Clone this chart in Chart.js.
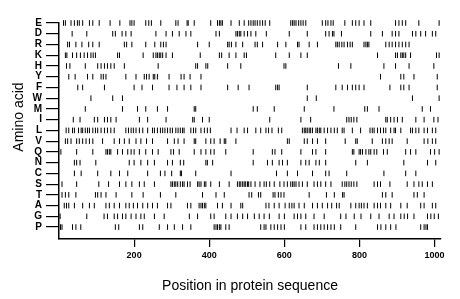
<!DOCTYPE html>
<html>
<head>
<meta charset="utf-8">
<script src="https://cdn.jsdelivr.net/npm/chart.js@4/dist/chart.umd.min.js"></script>
<style>
  html, body { margin: 0; padding: 0; background: #fff; }
  #wrap { width: 460px; height: 299px; }
</style>
</head>
<body>
<div id="wrap"><canvas id="aa_chart" width="460" height="299"></canvas></div>
<script>
// residues, top row first
const rows = ["E", "D", "R", "K", "H", "Y", "F", "W", "M", "I", "L", "V", "Q", "N", "C", "S", "T", "A", "G", "P"];
const xTicks = [200, 400, 600, 800, 1000];
const seqLength = 1017;

// positions of each residue in the sequence
const posE = [12,17,32,41,49,54,63,81,90,107,136,162,189,194,200,231,239,246,271,311,317,341,344,360,404,422,427,431,435,458,480,493,505,511,517,522,528,535,542,549,561,617,622,626,631,638,644,650,657,701,710,716,724,730,761,781,790,799,812,830,896,905,914,923,958,1012];
const posD = [35,74,143,150,168,178,192,258,285,302,320,338,351,418,427,471,475,480,484,493,502,511,524,552,613,661,710,719,728,732,752,830,861,887,896,905,941,950,963,976,994,1003];
const posR = [23,28,45,61,79,90,107,174,180,194,231,255,271,278,285,369,400,449,453,459,471,489,522,528,542,582,604,635,639,666,688,737,741,746,753,759,768,775,781,812,817,821,825,870,879,887,896,905,914,923,932];
const posK = [17,21,36,47,57,67,76,85,91,97,156,161,224,251,258,262,267,271,276,285,302,376,427,433,453,471,493,499,577,613,644,661,848,896,901,910,914,918,923,936,1005,1012];
const posH = [20,29,70,103,112,121,129,138,147,174,264,364,369,391,396,449,484,599,604,744,777,865,896,932,998];
const posY = [26,43,76,90,112,118,125,178,205,227,233,240,251,255,262,293,325,333,349,378,856,910,918,945,1007];
const posF = [50,63,121,200,221,249,293,314,333,351,378,449,477,506,577,582,586,661,737,754,768,781,790,799,812,881,910,918,932,1007];
const posW = [85,143,169,661,685,941,1012];
const posM = [70,169,209,231,262,289,360,364,517,528,573,653,732,814,821,852,967,989];
const posI = [38,56,94,103,121,129,138,152,214,236,285,356,360,382,400,561,644,670,766,772,778,785,793,870,874,883,892,901,914,950,972,998,1009];
const posL = [19,26,36,41,52,59,63,70,76,81,90,97,103,112,121,129,138,147,178,185,192,198,205,214,223,236,249,254,262,270,276,282,289,296,302,311,317,323,329,333,351,358,364,378,387,395,403,458,474,493,502,524,537,551,558,567,584,593,648,653,657,661,666,670,675,684,688,693,697,706,715,724,733,741,754,759,781,803,828,834,839,848,856,864,870,883,892,896,910,936,941,950,958,972,981,994,1003];
const posV = [17,23,32,47,54,63,72,81,90,116,147,161,174,187,205,218,233,249,289,307,317,333,360,364,391,404,413,429,440,444,471,608,613,653,661,675,688,710,762,790,794,834,861,870,879,887,927,972,982,994,1003];
const posQ = [5,47,90,125,129,134,138,156,169,183,192,200,214,231,249,264,298,305,320,360,378,391,404,413,444,517,568,575,593,644,675,684,710,781,785,799,803,808,817,825,830,839,846,864,874,923,936,950,989,1000,1012];
const posN = [41,47,56,98,187,200,218,236,254,289,302,323,332,391,395,409,517,555,568,586,595,608,644,657,666,684,693,710,790,821,918,981,1003];
const posC = [41,59,103,138,161,183,236,270,282,300,323,326,364,458,579,608,635,675,710,719,766,865,923,950];
const posS = [8,47,106,132,161,178,194,214,227,254,298,302,307,311,316,323,329,333,342,349,369,373,378,387,391,404,427,453,475,480,484,489,493,497,502,505,511,522,535,546,552,561,573,588,599,608,617,622,626,631,639,648,661,679,688,697,710,724,754,761,766,772,778,785,793,839,848,856,881,927,945,958,967,981,994];
const posT = [8,17,26,45,97,103,112,125,152,194,224,270,311,382,418,440,506,513,531,537,570,575,584,591,599,666,712,733,755,759,861,870,887,945,954,972];
const posA = [14,20,26,41,63,81,94,125,134,147,161,178,187,198,209,223,236,249,262,289,298,342,351,373,378,382,387,391,422,435,458,484,489,551,559,573,586,602,613,620,626,639,653,675,688,701,715,726,739,746,777,790,799,805,812,821,839,848,856,870,883,910,927,963,972,994,1003];
const posG = [3,74,120,129,147,156,169,178,192,205,218,227,254,280,347,369,404,413,444,458,475,489,502,520,533,546,560,586,600,626,635,644,657,679,706,750,764,786,804,830,852,879,892,910,919,928,945,981,990,999,1010];
const posP = [4,8,36,45,58,150,159,214,223,267,289,307,329,351,413,418,422,427,431,444,453,537,546,551,564,573,582,591,600,644,657,679,688,697,706,715,724,733,750,790,848,857,870,883,897,963,972,977,981];

const positions = [posE, posD, posR, posK, posH, posY, posF, posW, posM, posI, posL, posV, posQ, posN, posC, posS, posT, posA, posG, posP];

// one dataset per residue row, E on top (y = 20) down to P (y = 1)
const datasets = rows.map((aa, i) => ({
  label: aa,
  data: positions[i].map(p => ({ x: p, y: rows.length - i })),
  pointStyle: "line",
  rotation: 90,
  radius: 2.8,
  borderWidth: 1,
  borderColor: "#000",
  backgroundColor: "#000",
  clip: false
}));

// y title sits a bit above the middle of the axis in the original, so draw it by hand
const yTitle = {
  id: "yTitle",
  afterDraw(chart) {
    const ctx = chart.ctx;
    ctx.save();
    ctx.translate(19, 117);
    ctx.rotate(-Math.PI / 2);
    ctx.font = '14px "Liberation Sans"';
    ctx.fillStyle = "#000";
    ctx.textAlign = "center";
    ctx.textBaseline = "middle";
    ctx.fillText("Amino acid", 0, 0);
    ctx.restore();
  }
};

new Chart(document.getElementById("aa_chart"), {
  type: "scatter",
  data: { datasets: datasets },
  plugins: [yTitle],
  options: {
    responsive: false,
    animation: false,
    events: [],
    layout: { padding: { top: 23, right: 19, left: 0, bottom: 0 } },
    plugins: { legend: { display: false }, tooltip: { enabled: false } },
    scales: {
      x: {
        type: "linear",
        min: 0,
        max: seqLength,
        afterBuildTicks: (scale) => { scale.ticks = xTicks.map(v => ({ value: v })); },
        afterFit: (scale) => { scale.height = 60; },
        border: { display: true, color: "#000", width: 1.5 },
        grid: { drawOnChartArea: false, color: "#000", lineWidth: 1.2, tickLength: 8 },
        ticks: {
          color: "#000",
          padding: 3,
          maxRotation: 0,
          autoSkip: false,
          callback: (v) => String(v),
          font: { family: "Liberation Sans", size: 9, weight: "bold" }
        },
        title: {
          display: true,
          text: "Position in protein sequence",
          color: "#000",
          padding: { top: 4 },
          font: { family: "Liberation Sans", size: 14 }
        }
      },
      y: {
        type: "linear",
        min: -0.11,
        max: 20,
        afterBuildTicks: (scale) => {
          scale.ticks = rows.map((aa, i) => ({ value: rows.length - i }));
        },
        afterFit: (scale) => { scale.width = 59; },
        border: { display: true, color: "#000", width: 1.5 },
        grid: { drawOnChartArea: false, color: "#000", lineWidth: 1.2, tickLength: 13 },
        ticks: {
          color: "#000",
          padding: 4,
          autoSkip: false,
          callback: (v) => rows[rows.length - v],
          font: { family: "Liberation Sans", size: 10, weight: "bold" }
        },
        title: { display: false }
      }
    }
  }
});
</script>
</body>
</html>
